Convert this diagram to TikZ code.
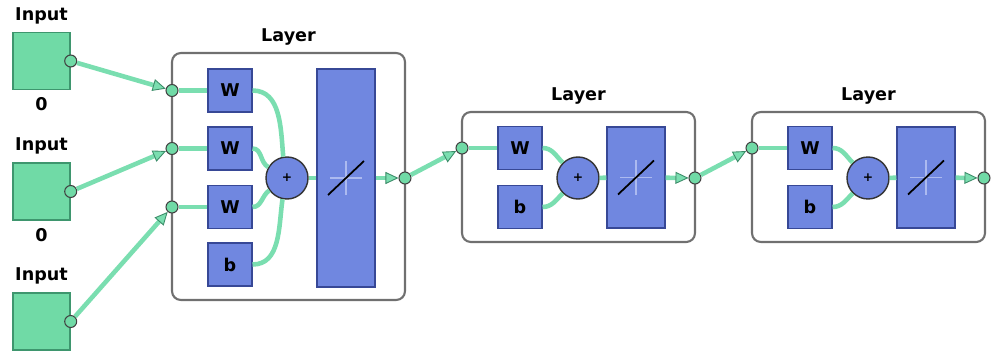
\documentclass[tikz,border=0pt]{standalone}
\usepackage{fontspec}
\setmainfont{DejaVu Sans}
\usetikzlibrary{arrows.meta,positioning}
\definecolor{mint}{RGB}{112,218,166}
\definecolor{mintedge}{RGB}{62,150,110}
\definecolor{wire}{RGB}{122,222,176}
\definecolor{wireedge}{RGB}{60,140,105}
\definecolor{bluefill}{RGB}{112,135,224}
\definecolor{blueedge}{RGB}{55,72,150}
\definecolor{frame}{RGB}{112,112,112}
\definecolor{crossline}{RGB}{172,186,240}

\begin{document}
\begin{tikzpicture}[
  x=0.02cm, y=-0.02cm,
  font=\fontsize{10}{12}\selectfont\bfseries,
  inbox/.style={draw=mintedge, fill=mint, line width=0.8pt, minimum size=1.14cm, inner sep=0pt},
  layerbox/.style={draw=frame, line width=1.2pt, rounded corners=5pt, fill=white, minimum width=4.66cm, inner sep=0pt},
  wbox/.style={draw=blueedge, fill=bluefill, line width=0.6pt, minimum width=0.88cm, minimum height=0.86cm, inner sep=0pt},
  tfbox/.style={draw=blueedge, fill=bluefill, line width=0.6pt, minimum width=1.16cm, inner sep=0pt},
  sumnode/.style={circle, draw=black!80, fill=bluefill, line width=0.8pt, minimum size=0.84cm, inner sep=0pt, font=\fontsize{7}{8}\selectfont\bfseries},
  port/.style={circle, draw=black!75, fill=mint, line width=0.6pt, minimum size=0.24cm, inner sep=0pt},
  lbl/.style={inner sep=0pt},
  wire/.style={draw=wire, line width=2.6pt},
  warr/.style={wire, -{Triangle[length=0.26cm, width=0.24cm, line width=0.5pt, fill=wire, color=wireedge]}}
]
\useasboundingbox (0,0) rectangle (991,358);

% Inputs
\node[inbox] (in1) at (41.5,61) {};
\node[inbox] (in2) at (41.5,191.5) {};
\node[inbox] (in3) at (41.5,321.5) {};
\node[lbl, above=0.15cm of in1] (in1t) {Input};
\node[lbl, above=0.15cm of in2] (in2t) {Input};
\node[lbl, above=0.15cm of in3] (in3t) {Input};
\node[lbl, below=0.14cm of in1] (in1d) {0};
\node[lbl, below=0.14cm of in2] (in2d) {0};
\node[port] (in1p) at (in1.east) {};
\node[port] (in2p) at (in2.east) {};
\node[port] (in3p) at (in3.east) {};

% Layer 1
\node[layerbox, minimum height=4.94cm] (L1) at (288.5,176.5) {};
\node[lbl, above=0.12cm of L1] (L1t) {Layer};
\node[wbox] (W1a) at (230,90.5) {W};
\node[wbox] (W1b) at (230,148.5) {W};
\node[wbox] (W1c) at (230,207) {W};
\node[wbox] (B1) at (230,264.5) {b};
\node[sumnode] (S1) at (287,178) {+};
\node[tfbox, minimum height=4.36cm] (T1) at (346,178) {};
\node[port] (L1a) at (172,90.5) {};
\node[port] (L1b) at (172,148.5) {};
\node[port] (L1c) at (172,207) {};
\node[port] (L1o) at (405,178) {};

% Layer 2
\node[layerbox, minimum height=2.6cm] (L2) at (578.5,177) {};
\node[lbl, above=0.12cm of L2] (L2t) {Layer};
\node[wbox] (W2) at (520,148) {W};
\node[wbox] (B2) at (520,207) {b};
\node[sumnode] (S2) at (578,178) {+};
\node[tfbox, minimum height=2.02cm] (T2) at (636,177.5) {};
\node[port] (L2i) at (462,148) {};
\node[port] (L2o) at (695,178) {};

% Layer 3
\node[layerbox, minimum height=2.6cm] (L3) at (868.5,177) {};
\node[lbl, above=0.12cm of L3] (L3t) {Layer};
\node[wbox] (W3) at (810,148) {W};
\node[wbox] (B3) at (810,207) {b};
\node[sumnode] (S3) at (868,178) {+};
\node[tfbox, minimum height=2.02cm] (T3) at (926,177.5) {};
\node[port] (L3i) at (752,148) {};
\node[port] (L3o) at (984,178) {};

% transfer symbols
\foreach \t in {T1,T2,T3}{
  \draw[crossline, line width=0.6pt] (\t.center) +(-16,0) -- +(16,0);
  \draw[crossline, line width=0.6pt] (\t.center) +(0,-17) -- +(0,17);
  \draw[black, line width=1pt] (\t.center) +(-18,17) -- +(18,-17);
}

% Connections
\draw[warr] (in1p) -- (L1a);
\draw[warr] (in2p) -- (L1b);
\draw[warr] (in3p) -- (L1c);
\draw[wire] (L1a) -- (W1a);
\draw[wire] (L1b) -- (W1b);
\draw[wire] (L1c) -- (W1c);
\draw[wire] (W1a.east) to[out=0,in=95] (S1.100);
\draw[wire] (W1b.east) to[out=0,in=150] (S1.150);
\draw[wire] (W1c.east) to[out=0,in=215] (S1.215);
\draw[wire] (B1.east) to[out=0,in=262] (S1.258);
\draw[wire] (S1) -- (T1);
\draw[warr] (T1) -- (L1o);
\draw[warr] (L1o) -- (L2i);

\draw[wire] (L2i) -- (W2);
\draw[wire] (W2.east) to[out=0,in=135] (S2.135);
\draw[wire] (B2.east) to[out=0,in=225] (S2.225);
\draw[wire] (S2) -- (T2);
\draw[warr] (T2) -- (L2o);
\draw[warr] (L2o) -- (L3i);

\draw[wire] (L3i) -- (W3);
\draw[wire] (W3.east) to[out=0,in=135] (S3.135);
\draw[wire] (B3.east) to[out=0,in=225] (S3.225);
\draw[wire] (S3) -- (T3);
\draw[warr] (T3) -- (L3o);
\end{tikzpicture}
\end{document}
